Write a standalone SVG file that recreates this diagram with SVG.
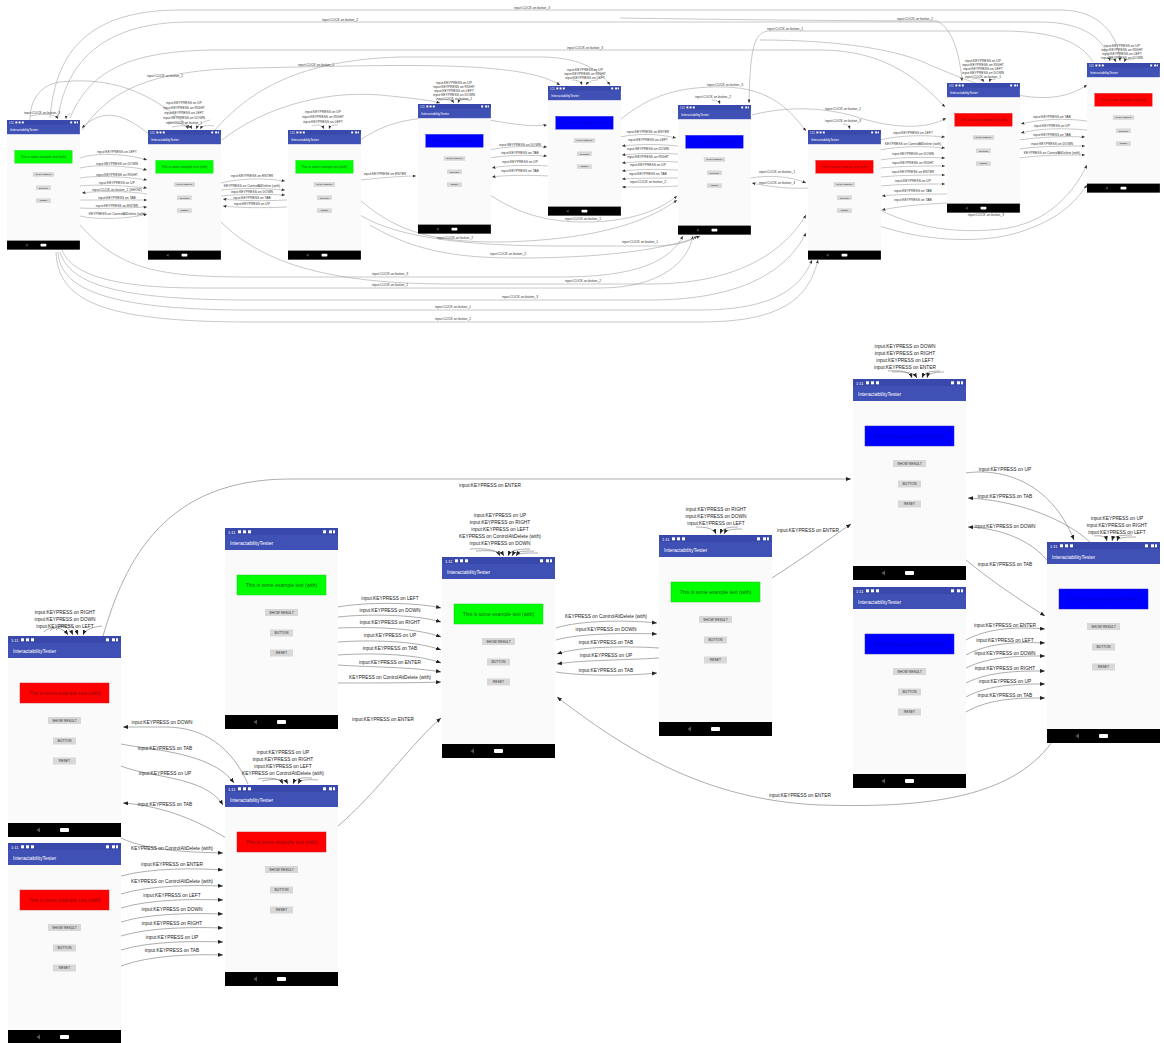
<svg xmlns="http://www.w3.org/2000/svg" xmlns:xlink="http://www.w3.org/1999/xlink" width="1164" height="1043" viewBox="0 0 1164 1043">
<style>
text{font-family:"Liberation Sans",Arial,sans-serif}
.e{fill:none;stroke:#8a8a8a;stroke-width:0.7;marker-end:url(#ab)}
.et{fill:none;stroke:#9a9a9a;stroke-width:0.55;marker-end:url(#at)}
.lb{font-size:4.8px;fill:#222;text-anchor:middle}
.lt{font-size:3.3px;fill:#333;text-anchor:middle}
.st{font-size:4px;fill:#fff}
.tt{font-size:5px;fill:#fff}
.bt{fill:#d8d8d8}
.btx{font-size:3.4px;fill:#333;text-anchor:middle}
.gr{fill:#00ff00;stroke:#22cc22;stroke-width:0.5}
.rd{fill:#ff0000;stroke:#cc2222;stroke-width:0.5}
.bl{fill:#0000ff;stroke:#2222cc;stroke-width:0.5}
.gx{font-size:5px;fill:#116611;text-anchor:middle}
.rx{font-size:5px;fill:#881111;text-anchor:middle}
.bx{font-size:5px;fill:#0000cc;text-anchor:middle}
</style>
<defs>
<marker id="ab" markerUnits="userSpaceOnUse" markerWidth="5" markerHeight="4" refX="5" refY="2" orient="auto"><path d="M0,0 L5,2 L0,4 Z" fill="#222"/></marker>
<marker id="at" markerUnits="userSpaceOnUse" markerWidth="3.5" markerHeight="3" refX="3.5" refY="1.5" orient="auto"><path d="M0,0 L3.5,1.5 L0,3 Z" fill="#333"/></marker>
<g id="scr">
<rect width="113" height="201" fill="#fafafa"/>
<rect width="113" height="22" fill="#3f51b5"/>
<rect width="113" height="7" fill="#3949ab"/>
<text x="3" y="5.6" class="st">1:11</text>
<rect x="13" y="2.3" width="3" height="3" fill="#fff"/>
<rect x="18" y="2.3" width="3" height="3" fill="#fff"/>
<rect x="23" y="2.3" width="3" height="3" fill="#fff"/>
<rect x="98" y="2.3" width="3" height="3" fill="#fff"/>
<rect x="104" y="2.3" width="3" height="3" fill="#fff"/>
<rect x="108" y="2.3" width="2" height="3" fill="#fff"/>
<text x="5" y="17" class="tt">InteractabilityTester</text>
<rect x="40" y="81" width="33" height="7" class="bt"/>
<text x="56.5" y="85.8" class="btx">SHOW RESULT</text>
<rect x="45" y="101.5" width="23" height="7" class="bt"/>
<text x="56.5" y="106.3" class="btx">BUTTON</text>
<rect x="45" y="121.5" width="23" height="7" class="bt"/>
<text x="56.5" y="126.3" class="btx">RESET</text>
<rect y="187" width="113" height="14" fill="#000"/>
<path d="M32 191.5 L28.5 194 L32 196.5 Z" fill="#555"/>
<rect x="52" y="192" width="9" height="4" rx="1" fill="#fff"/>
</g>
</defs>
<rect width="1164" height="1043" fill="#fff"/>

<g id="connectors">
<!-- ===== top graph ===== -->
<path class="et" d="M50 118 C55 60 80 10 180 10 L1060 10 C1100 10 1118 35 1120 61"/>
<path class="et" d="M58 118 C65 70 95 22 190 22 L1040 22 C1085 22 1105 40 1110 61"/>
<path class="et" d="M1093 62 C1080 40 1050 31 1000 31 L770 31 C755 31 750 45 749 103"/>
<path class="et" d="M620 18 C750 20 880 21 937 21 C955 30 960 60 962 81"/>
<path class="et" d="M70 118 C90 70 130 50 220 50 L820 50 C880 50 915 75 945 107"/>
<path class="et" d="M82 130 C110 90 150 70 250 68 C400 65 520 60 560 85"/>
<path class="et" d="M215 130 C250 90 300 60 400 57 L540 57 C580 57 600 70 610 85"/>
<path class="et" d="M222 140 C260 110 320 90 380 95 C410 98 430 100 440 103"/>
<path class="et" d="M620 120 C650 95 680 86 725 87 C770 88 790 110 806 131"/>
<path class="et" d="M760 40 C840 40 900 50 930 65 C1000 95 1050 110 1087 85"/>
<path class="et" d="M752 115 C790 105 830 108 860 118 C900 130 930 128 946 118"/>
<path class="et" d="M360 140 C390 120 420 115 470 118 C500 120 520 128 547 125"/>
<path class="et" d="M30 120 C30 100 40 85 60 82 C120 75 160 100 190 128"/>
<path class="et" d="M150 135 C120 110 100 110 82 128"/>
<!-- T1-T2 -->
<path class="et" d="M80 158 C95 152 130 154 147 160"/>
<path class="et" d="M80 168 C95 164 130 166 147 170"/>
<path class="et" d="M80 178 C95 175 130 177 147 180"/>
<path class="et" d="M80 186 C95 184 130 186 147 188"/>
<path class="et" d="M147 194 C130 191 95 191 82 193"/>
<path class="et" d="M80 200 C95 200 130 200 147 200"/>
<path class="et" d="M80 208 C95 209 130 208 147 207"/>
<path class="et" d="M80 216 C95 220 130 219 147 214"/>
<!-- T2-T3 -->
<path class="et" d="M221 183 C240 178 265 178 285 181"/>
<path class="et" d="M221 190 C240 188 265 188 285 190"/>
<path class="et" d="M221 196 C240 194 265 194 285 195"/>
<path class="et" d="M287 200 C265 201 240 201 223 199"/>
<path class="et" d="M287 207 C265 208 240 208 223 206"/>
<!-- T3-T4 -->
<path class="et" d="M360 180 C380 178 400 176 416 176"/>
<!-- T4-T5 -->
<path class="et" d="M490 150 C505 146 530 146 547 147"/>
<path class="et" d="M490 158 C505 155 530 155 547 156"/>
<path class="et" d="M549 166 C530 165 505 165 492 168"/>
<path class="et" d="M549 176 C530 175 505 175 492 177"/>
<!-- T5-T6 -->
<path class="et" d="M620 137 C640 133 660 134 676 138"/>
<path class="et" d="M678 146 C660 144 640 144 622 146"/>
<path class="et" d="M678 154 C660 153 640 153 622 155"/>
<path class="et" d="M678 162 C660 161 640 161 622 163"/>
<path class="et" d="M678 170 C660 169 640 169 622 171"/>
<path class="et" d="M678 178 C660 178 640 178 622 179"/>
<path class="et" d="M678 186 C660 187 640 187 622 187"/>
<!-- T6-T7 -->
<path class="et" d="M750 178 C770 175 790 176 806 183"/>
<path class="et" d="M808 188 C790 189 770 187 752 183"/>
<!-- T7-T8 -->
<path class="et" d="M880 140 C900 135 925 135 945 137"/>
<path class="et" d="M880 150 C900 146 925 146 945 148"/>
<path class="et" d="M880 160 C900 157 925 157 945 158"/>
<path class="et" d="M880 168 C900 166 925 166 945 166"/>
<path class="et" d="M880 177 C900 175 925 175 945 175"/>
<path class="et" d="M880 186 C900 184 925 184 945 184"/>
<path class="et" d="M947 194 C925 194 900 194 882 196"/>
<path class="et" d="M947 203 C925 204 900 206 882 210"/>
<!-- T8-T9 -->
<path class="et" d="M1087 121 C1065 118 1040 119 1021 124"/>
<path class="et" d="M1087 130 C1065 128 1040 128 1021 133"/>
<path class="et" d="M1019 140 C1040 137 1065 136 1085 137"/>
<path class="et" d="M1019 149 C1040 146 1065 146 1085 146"/>
<path class="et" d="M1019 158 C1040 155 1065 155 1085 155"/>
<!-- incoming tops -->
<path class="et" d="M30 116 C45 113 55 114 58 119"/>
<path class="et" d="M70 113 C68 115 66 117 66 119"/>
<path class="et" d="M168 122 C178 122 186 124 188 129"/>
<path class="et" d="M172 127 C182 125 190 125 192 129"/>
<path class="et" d="M210 120 C202 122 198 125 196 129"/>
<path class="et" d="M214 126 C206 125 202 126 200 129"/>
<path class="et" d="M312 126 C318 124 322 125 324 129"/>
<path class="et" d="M338 125 C332 125 330 126 329 129"/>
<path class="et" d="M440 100 C448 99 452 100 454 103"/>
<path class="et" d="M470 100 C462 99 459 100 458 103"/>
<path class="et" d="M572 80 C578 80 581 82 582 85"/>
<path class="et" d="M598 80 C592 80 588 82 586 85"/>
<path class="et" d="M712 100 C716 100 719 101 720 104"/>
<path class="et" d="M843 124 C847 124 849 126 850 129"/>
<path class="et" d="M972 79 C978 78 982 79 984 82"/>
<path class="et" d="M996 79 C992 79 990 80 989 82"/>
<path class="et" d="M1110 60 C1114 59 1115 60 1116 62"/>
<path class="et" d="M1134 59 C1128 59 1125 60 1124 62"/>
<!-- lower curves -->
<path class="et" d="M80 225 C120 270 160 277 250 277 L560 277 C640 277 670 260 683 236"/>
<path class="et" d="M62 250 C70 270 100 288 200 288 L600 288 C660 288 688 262 693 236"/>
<path class="et" d="M221 222 C260 260 320 284 450 284 L650 284 C740 284 785 250 806 215"/>
<path class="et" d="M60 252 C70 285 120 300 250 300 L650 300 C750 300 790 265 806 233"/>
<path class="et" d="M58 252 C60 290 110 310 250 310 L700 310 C770 310 800 290 812 260"/>
<path class="et" d="M56 252 C58 300 100 322 250 322 L700 322 C780 322 808 300 818 260"/>
<path class="et" d="M360 215 C400 240 480 246 560 246 L650 246 C675 246 690 242 697 236"/>
<path class="et" d="M370 225 C420 255 470 258 520 258 C600 258 665 250 700 236"/>
<path class="et" d="M490 195 C520 215 550 222 585 222 C630 222 660 210 677 196"/>
<path class="et" d="M360 200 C400 235 440 242 500 242 C600 240 650 220 677 200"/>
<path class="et" d="M880 210 C920 230 960 232 990 230 C1040 228 1070 200 1087 165"/>
<path class="et" d="M880 226 C920 240 980 245 1020 232 C1050 222 1070 210 1087 185"/>

<!-- ===== bottom graph ===== -->
<path class="e" d="M103 636 C125 560 165 479 290 479 L851 479"/>
<path class="e" d="M44 632 C50 626 62 626 68 635"/>
<path class="e" d="M50 631 C58 624 68 624 73 635"/>
<path class="e" d="M56 630 C65 622 74 624 78 635"/>
<path class="e" d="M102 626 C92 627 85 630 83 635"/>
<path class="e" d="M248 784 C232 748 205 727 165 727 L123 727"/>
<path class="e" d="M121 744 C150 750 212 752 234 783"/>
<path class="e" d="M121 766 C150 778 205 776 223 805"/>
<path class="e" d="M226 838 C200 822 165 806 123 803"/>
<path class="e" d="M258 779 C270 777 280 778 283 784"/>
<path class="e" d="M262 781 C275 778 285 779 288 784"/>
<path class="e" d="M312 778 C300 777 295 779 293 784"/>
<path class="e" d="M318 780 C306 779 300 780 298 784"/>
<!-- B2 -> B4 -->
<path class="e" d="M121 838 C150 852 195 852 223 853"/>
<path class="e" d="M121 876 C150 868 195 868 223 870"/>
<path class="e" d="M121 894 C150 885 195 885 223 886"/>
<path class="e" d="M121 908 C150 899 195 899 223 900"/>
<path class="e" d="M121 922 C150 913 195 913 223 914"/>
<path class="e" d="M121 936 C150 927 195 927 223 928"/>
<path class="e" d="M121 950 C150 941 195 941 223 942"/>
<path class="e" d="M121 966 C150 955 195 954 223 955"/>
<!-- B4 -> B5 -->
<path class="e" d="M338 826 C375 795 410 745 441 718"/>
<!-- B3 -> B5 -->
<path class="e" d="M338 607 C365 602 415 602 441 608"/>
<path class="e" d="M338 617 C365 614 415 614 441 622"/>
<path class="e" d="M338 628 C365 627 415 627 441 637"/>
<path class="e" d="M338 642 C365 640 415 640 441 650"/>
<path class="e" d="M338 655 C365 653 415 653 441 663"/>
<path class="e" d="M338 665 C365 667 415 667 441 672"/>
<path class="e" d="M338 683 C365 683 415 683 441 682"/>
<!-- above B5 -->
<path class="e" d="M470 549 C488 548 497 550 500 556"/>
<path class="e" d="M476 551 C492 550 501 551 504 556"/>
<path class="e" d="M530 549 C515 549 510 551 508 556"/>
<path class="e" d="M534 551 C520 551 514 552 512 556"/>
<path class="e" d="M538 553 C525 553 518 553 516 556"/>
<!-- B5 <-> B6 -->
<path class="e" d="M556 628 C580 620 630 620 657 623"/>
<path class="e" d="M556 640 C580 633 630 633 657 634"/>
<path class="e" d="M659 648 C630 646 580 646 557 654"/>
<path class="e" d="M659 658 C630 660 580 660 557 664"/>
<path class="e" d="M556 672 C580 676 630 676 657 673"/>
<!-- above B6 -->
<path class="e" d="M696 527 C708 527 714 529 716 534"/>
<path class="e" d="M738 527 C726 527 722 529 720 534"/>
<path class="e" d="M742 529 C730 529 726 530 724 534"/>
<!-- B6 -> B7 -->
<path class="e" d="M772 578 C800 560 828 540 851 524"/>
<!-- B9 -> B5 -->
<path class="e" d="M1052 742 C1010 800 920 808 820 805 C700 800 620 745 557 697"/>
<!-- above B7 -->
<path class="e" d="M888 371 C902 370 910 372 912 378"/>
<path class="e" d="M892 372 C906 371 914 373 917 378"/>
<path class="e" d="M940 371 C928 371 924 373 922 378"/>
<path class="e" d="M944 372 C932 372 928 374 927 378"/>
<!-- B7 <-> B9 -->
<path class="e" d="M966 473 C1000 468 1050 480 1074 540"/>
<path class="e" d="M1090 542 C1060 515 1010 500 968 498"/>
<path class="e" d="M1047 560 C1030 540 1000 528 968 527"/>
<path class="e" d="M966 560 C990 580 1020 600 1045 616"/>
<!-- above B9 -->
<path class="e" d="M1094 536 C1102 535 1106 537 1107 541"/>
<path class="e" d="M1132 535 C1118 535 1113 537 1112 541"/>
<path class="e" d="M1136 537 C1122 537 1118 538 1117 541"/>
<!-- B8 -> B9 -->
<path class="e" d="M966 640 C990 627 1020 627 1045 629"/>
<path class="e" d="M966 655 C990 642 1020 642 1045 643"/>
<path class="e" d="M966 668 C990 656 1020 656 1045 656"/>
<path class="e" d="M966 683 C990 671 1020 671 1045 671"/>
<path class="e" d="M966 697 C990 684 1020 684 1045 684"/>
<path class="e" d="M966 712 C990 698 1020 698 1045 698"/>
</g>

<g id="edge-labels">
<!-- top -->
<text class="lt" x="532" y="9">input:CLICK on button_3</text>
<text class="lt" x="340" y="21">input:CLICK on button_2</text>
<text class="lt" x="785" y="30">input:CLICK on button_1</text>
<text class="lt" x="915" y="20">input:CLICK on button_2</text>
<text class="lt" x="585" y="49">input:CLICK on button_3</text>
<text class="lt" x="316" y="66">input:CLICK on button_1</text>
<text class="lt" x="165" y="77">input:CLICK on button_2</text>
<text class="lt" x="725" y="86">input:CLICK on button_3</text>
<text class="lt" x="843" y="110">input:CLICK on button_1</text>
<text class="lt" x="42" y="114">input:CLICK on button_3</text>
<text class="lt" x="184" y="104">input:KEYPRESS on UP</text>
<text class="lt" x="184" y="109">input:KEYPRESS on RIGHT</text>
<text class="lt" x="184" y="114">input:KEYPRESS on LEFT</text>
<text class="lt" x="184" y="119">input:KEYPRESS on DOWN</text>
<text class="lt" x="184" y="124">input:CLICK on button_1</text>
<text class="lt" x="323" y="113">input:KEYPRESS on UP</text>
<text class="lt" x="323" y="118">input:KEYPRESS on RIGHT</text>
<text class="lt" x="323" y="123">input:KEYPRESS on LEFT</text>
<text class="lt" x="454" y="84">input:KEYPRESS on UP</text>
<text class="lt" x="454" y="88">input:KEYPRESS on RIGHT</text>
<text class="lt" x="454" y="92">input:KEYPRESS on LEFT</text>
<text class="lt" x="454" y="96">input:KEYPRESS on DOWN</text>
<text class="lt" x="454" y="100">input:CLICK on button_2</text>
<text class="lt" x="585" y="71">input:KEYPRESS on UP</text>
<text class="lt" x="585" y="75">input:KEYPRESS on RIGHT</text>
<text class="lt" x="585" y="79">input:KEYPRESS on LEFT</text>
<text class="lt" x="713" y="98">input:CLICK on button_2</text>
<text class="lt" x="843" y="122">input:CLICK on button_3</text>
<text class="lt" x="983" y="62">input:KEYPRESS on UP</text>
<text class="lt" x="983" y="66">input:KEYPRESS on RIGHT</text>
<text class="lt" x="983" y="70">input:KEYPRESS on LEFT</text>
<text class="lt" x="983" y="74">input:KEYPRESS on DOWN</text>
<text class="lt" x="983" y="78">input:CLICK on button_1</text>
<text class="lt" x="1122" y="47">input:KEYPRESS on UP</text>
<text class="lt" x="1122" y="51">input:KEYPRESS on RIGHT</text>
<text class="lt" x="1122" y="55">input:KEYPRESS on LEFT</text>
<text class="lt" x="1122" y="59">input:KEYPRESS on DOWN</text>
<text class="lt" x="117" y="153">input:KEYPRESS on LEFT</text>
<text class="lt" x="117" y="165">input:KEYPRESS on DOWN</text>
<text class="lt" x="117" y="176">input:KEYPRESS on RIGHT</text>
<text class="lt" x="117" y="184">input:KEYPRESS on UP</text>
<text class="lt" x="117" y="191">input:CLICK on button_1 (SHOW)</text>
<text class="lt" x="117" y="199">input:KEYPRESS on TAB</text>
<text class="lt" x="117" y="207">input:KEYPRESS on ENTER</text>
<text class="lt" x="117" y="215">KEYPRESS on ControlAltDelete (with)</text>
<text class="lt" x="252" y="177">input:KEYPRESS on ENTER</text>
<text class="lt" x="252" y="187">KEYPRESS on ControlAltDelete (with)</text>
<text class="lt" x="252" y="193">input:KEYPRESS on DOWN</text>
<text class="lt" x="252" y="199">input:KEYPRESS on TAB</text>
<text class="lt" x="252" y="205">input:KEYPRESS on UP</text>
<text class="lt" x="385" y="175">input:KEYPRESS on ENTER</text>
<text class="lt" x="520" y="146">input:KEYPRESS on DOWN</text>
<text class="lt" x="520" y="154">input:KEYPRESS on TAB</text>
<text class="lt" x="520" y="163">input:KEYPRESS on UP</text>
<text class="lt" x="520" y="172">input:KEYPRESS on TAB</text>
<text class="lt" x="648" y="133">input:KEYPRESS on ENTER</text>
<text class="lt" x="648" y="141">input:KEYPRESS on LEFT</text>
<text class="lt" x="648" y="150">input:KEYPRESS on DOWN</text>
<text class="lt" x="648" y="158">input:KEYPRESS on RIGHT</text>
<text class="lt" x="648" y="166">input:KEYPRESS on UP</text>
<text class="lt" x="648" y="175">input:KEYPRESS on TAB</text>
<text class="lt" x="648" y="183">input:CLICK on button_2</text>
<text class="lt" x="777" y="173">input:CLICK on button_1</text>
<text class="lt" x="777" y="184">input:CLICK on button_3</text>
<text class="lt" x="913" y="134">input:KEYPRESS on LEFT</text>
<text class="lt" x="913" y="145">KEYPRESS on ControlAltDelete (with)</text>
<text class="lt" x="913" y="155">input:KEYPRESS on DOWN</text>
<text class="lt" x="913" y="164">input:KEYPRESS on RIGHT</text>
<text class="lt" x="913" y="173">input:KEYPRESS on ENTER</text>
<text class="lt" x="913" y="182">input:KEYPRESS on UP</text>
<text class="lt" x="913" y="192">input:KEYPRESS on TAB</text>
<text class="lt" x="913" y="201">input:KEYPRESS on TAB</text>
<text class="lt" x="1052" y="118">input:KEYPRESS on TAB</text>
<text class="lt" x="1052" y="127">input:KEYPRESS on UP</text>
<text class="lt" x="1052" y="136">input:KEYPRESS on TAB</text>
<text class="lt" x="1052" y="145">input:KEYPRESS on DOWN</text>
<text class="lt" x="1052" y="154">KEYPRESS on ControlAltDelete (with)</text>
<text class="lt" x="583" y="220">input:CLICK on button_1</text>
<text class="lt" x="455" y="239">input:CLICK on button_2</text>
<text class="lt" x="986" y="216">input:CLICK on button_3</text>
<text class="lt" x="640" y="243">input:CLICK on button_1</text>
<text class="lt" x="508" y="255">input:CLICK on button_2</text>
<text class="lt" x="390" y="275">input:CLICK on button_3</text>
<text class="lt" x="390" y="286">input:CLICK on button_1</text>
<text class="lt" x="583" y="282">input:CLICK on button_2</text>
<text class="lt" x="520" y="298">input:CLICK on button_3</text>
<text class="lt" x="453" y="308">input:CLICK on button_1</text>
<text class="lt" x="453" y="320">input:CLICK on button_2</text>
<!-- bottom -->
<text class="lb" x="490" y="487">input:KEYPRESS on ENTER</text>
<text class="lb" x="65" y="614">input:KEYPRESS on RIGHT</text>
<text class="lb" x="65" y="621">input:KEYPRESS on DOWN</text>
<text class="lb" x="65" y="628">input:KEYPRESS on LEFT</text>
<text class="lb" x="162" y="724">input:KEYPRESS on DOWN</text>
<text class="lb" x="165" y="750">input:KEYPRESS on TAB</text>
<text class="lb" x="165" y="775">input:KEYPRESS on UP</text>
<text class="lb" x="165" y="806">input:KEYPRESS on TAB</text>
<text class="lb" x="283" y="754">input:KEYPRESS on UP</text>
<text class="lb" x="283" y="761">input:KEYPRESS on RIGHT</text>
<text class="lb" x="283" y="768">input:KEYPRESS on LEFT</text>
<text class="lb" x="283" y="775">KEYPRESS on ControlAltDelete (with)</text>
<text class="lb" x="172" y="850">KEYPRESS on ControlAltDelete (with)</text>
<text class="lb" x="172" y="866">input:KEYPRESS on ENTER</text>
<text class="lb" x="172" y="883">KEYPRESS on ControlAltDelete (with)</text>
<text class="lb" x="172" y="897">input:KEYPRESS on LEFT</text>
<text class="lb" x="172" y="911">input:KEYPRESS on DOWN</text>
<text class="lb" x="172" y="925">input:KEYPRESS on RIGHT</text>
<text class="lb" x="172" y="939">input:KEYPRESS on UP</text>
<text class="lb" x="172" y="952">input:KEYPRESS on TAB</text>
<text class="lb" x="383" y="721">input:KEYPRESS on ENTER</text>
<text class="lb" x="390" y="600">input:KEYPRESS on LEFT</text>
<text class="lb" x="390" y="612">input:KEYPRESS on DOWN</text>
<text class="lb" x="390" y="624">input:KEYPRESS on RIGHT</text>
<text class="lb" x="390" y="637">input:KEYPRESS on UP</text>
<text class="lb" x="390" y="650">input:KEYPRESS on TAB</text>
<text class="lb" x="390" y="664">input:KEYPRESS on ENTER</text>
<text class="lb" x="390" y="679">KEYPRESS on ControlAltDelete (with)</text>
<text class="lb" x="500" y="517">input:KEYPRESS on UP</text>
<text class="lb" x="500" y="524">input:KEYPRESS on RIGHT</text>
<text class="lb" x="500" y="531">input:KEYPRESS on LEFT</text>
<text class="lb" x="500" y="538">KEYPRESS on ControlAltDelete (with)</text>
<text class="lb" x="500" y="545">input:KEYPRESS on DOWN</text>
<text class="lb" x="606" y="618">KEYPRESS on ControlAltDelete (with)</text>
<text class="lb" x="606" y="631">input:KEYPRESS on DOWN</text>
<text class="lb" x="606" y="644">input:KEYPRESS on TAB</text>
<text class="lb" x="606" y="657">input:KEYPRESS on UP</text>
<text class="lb" x="606" y="672">input:KEYPRESS on TAB</text>
<text class="lb" x="716" y="511">input:KEYPRESS on RIGHT</text>
<text class="lb" x="716" y="518">input:KEYPRESS on DOWN</text>
<text class="lb" x="716" y="525">input:KEYPRESS on LEFT</text>
<text class="lb" x="808" y="532">input:KEYPRESS on ENTER</text>
<text class="lb" x="800" y="797">input:KEYPRESS on ENTER</text>
<text class="lb" x="905" y="348">input:KEYPRESS on DOWN</text>
<text class="lb" x="905" y="355">input:KEYPRESS on RIGHT</text>
<text class="lb" x="905" y="362">input:KEYPRESS on LEFT</text>
<text class="lb" x="905" y="369">input:KEYPRESS on ENTER</text>
<text class="lb" x="1005" y="471">input:KEYPRESS on UP</text>
<text class="lb" x="1005" y="498">input:KEYPRESS on TAB</text>
<text class="lb" x="1005" y="528">input:KEYPRESS on DOWN</text>
<text class="lb" x="1005" y="566">input:KEYPRESS on TAB</text>
<text class="lb" x="1117" y="520">input:KEYPRESS on UP</text>
<text class="lb" x="1117" y="527">input:KEYPRESS on RIGHT</text>
<text class="lb" x="1117" y="534">input:KEYPRESS on LEFT</text>
<text class="lb" x="1005" y="627">input:KEYPRESS on ENTER</text>
<text class="lb" x="1005" y="642">input:KEYPRESS on LEFT</text>
<text class="lb" x="1005" y="655">input:KEYPRESS on DOWN</text>
<text class="lb" x="1005" y="670">input:KEYPRESS on RIGHT</text>
<text class="lb" x="1005" y="683">input:KEYPRESS on UP</text>
<text class="lb" x="1005" y="697">input:KEYPRESS on TAB</text>
</g>

<!-- top graph nodes -->
<g id="t1" transform="translate(7,120) scale(0.645)"><use href="#scr"/><rect class="gr" x="12" y="47" width="89" height="20"/><text class="gx" x="56.5" y="59">This is some example text (with)</text></g>
<g id="t2" transform="translate(148,130) scale(0.645)"><use href="#scr"/><rect class="gr" x="12" y="47" width="89" height="20"/><text class="gx" x="56.5" y="59">This is some example text (with)</text></g>
<g id="t3" transform="translate(288,130) scale(0.645)"><use href="#scr"/><rect class="gr" x="12" y="47" width="89" height="20"/><text class="gx" x="56.5" y="59">This is some example text (with)</text></g>
<g id="t4" transform="translate(418,104) scale(0.645)"><use href="#scr"/><rect class="bl" x="12" y="47" width="89" height="20"/><text class="bx" x="56.5" y="59">This is some example text (with)</text></g>
<g id="t5" transform="translate(548,86) scale(0.645)"><use href="#scr"/><rect class="bl" x="12" y="47" width="89" height="20"/><text class="bx" x="56.5" y="59">This is some example text (with)</text></g>
<g id="t6" transform="translate(678,105) scale(0.645)"><use href="#scr"/><rect class="bl" x="12" y="47" width="89" height="20"/><text class="bx" x="56.5" y="59">This is some example text (with)</text></g>
<g id="t7" transform="translate(808,130) scale(0.645)"><use href="#scr"/><rect class="rd" x="12" y="47" width="89" height="20"/><text class="rx" x="56.5" y="59">This is some example text (with)</text></g>
<g id="t8" transform="translate(947,83) scale(0.645)"><use href="#scr"/><rect class="rd" x="12" y="47" width="89" height="20"/><text class="rx" x="56.5" y="59">This is some example text (with)</text></g>
<g id="t9" transform="translate(1087,63) scale(0.645)"><use href="#scr"/><rect class="rd" x="12" y="47" width="89" height="20"/><text class="rx" x="56.5" y="59">This is some example text (with)</text></g>

<!-- bottom graph nodes -->
<g id="b1" transform="translate(8,636)"><use href="#scr"/><rect class="rd" x="12" y="47" width="89" height="20"/><text class="rx" x="56.5" y="59">This is some example text (with)</text></g>
<g id="b2" transform="translate(8,843)"><use href="#scr"/><rect class="rd" x="12" y="47" width="89" height="20"/><text class="rx" x="56.5" y="59">This is some example text (with)</text></g>
<g id="b3" transform="translate(225,528)"><use href="#scr"/><rect class="gr" x="12" y="47" width="89" height="20"/><text class="gx" x="56.5" y="59">This is some example text (with)</text></g>
<g id="b4" transform="translate(225,785)"><use href="#scr"/><rect class="rd" x="12" y="47" width="89" height="20"/><text class="rx" x="56.5" y="59">This is some example text (with)</text></g>
<g id="b5" transform="translate(442,557)"><use href="#scr"/><rect class="gr" x="12" y="47" width="89" height="20"/><text class="gx" x="56.5" y="59">This is some example text (with)</text></g>
<g id="b6" transform="translate(659,535)"><use href="#scr"/><rect class="gr" x="12" y="47" width="89" height="20"/><text class="gx" x="56.5" y="59">This is some example text (with)</text></g>
<g id="b7" transform="translate(853,379)"><use href="#scr"/><rect class="bl" x="12" y="47" width="89" height="20"/><text class="bx" x="56.5" y="59">This is some example text (with)</text></g>
<g id="b8" transform="translate(853,587)"><use href="#scr"/><rect class="bl" x="12" y="47" width="89" height="20"/><text class="bx" x="56.5" y="59">This is some example text (with)</text></g>
<g id="b9" transform="translate(1047,542)"><use href="#scr"/><rect class="bl" x="12" y="47" width="89" height="20"/><text class="bx" x="56.5" y="59">This is some example text (with)</text></g>
</svg>
